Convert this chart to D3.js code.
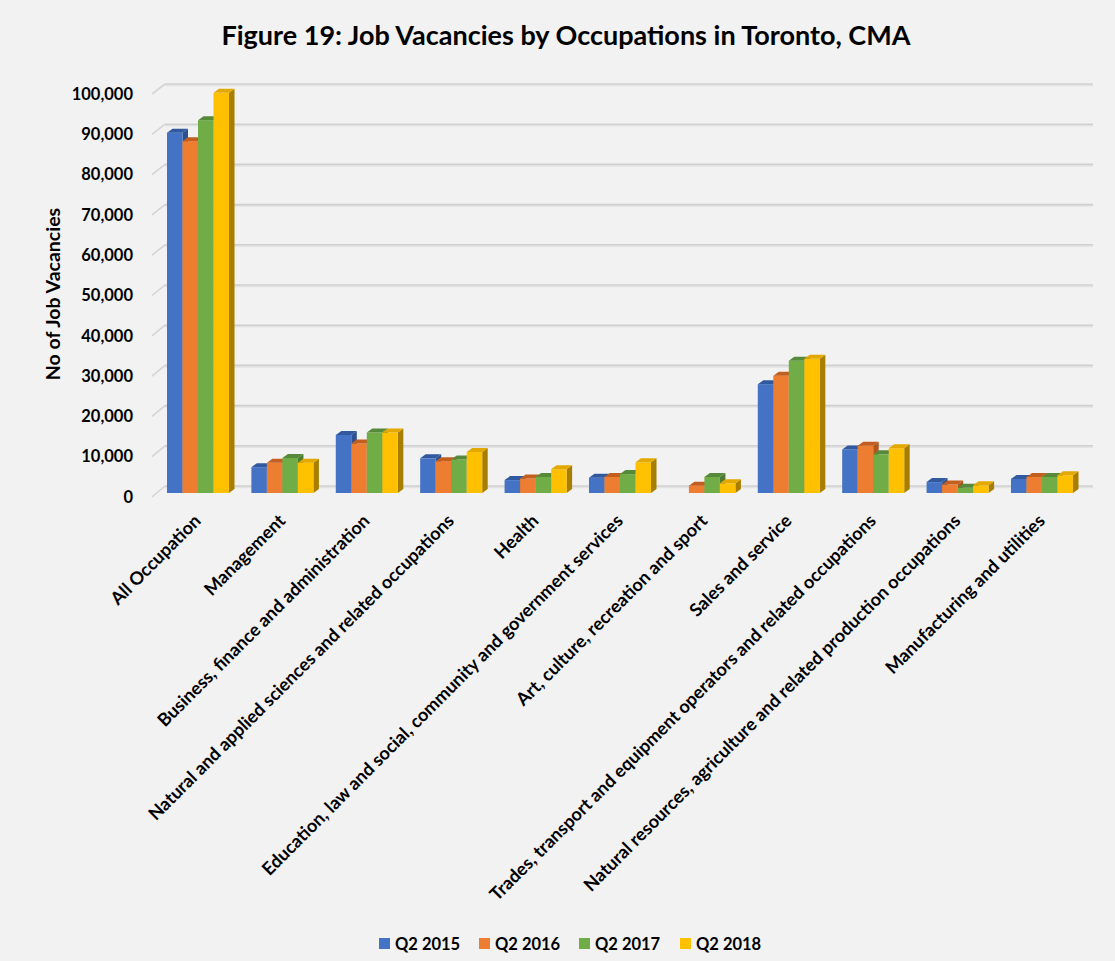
<!DOCTYPE html>
<html>
<head>
<meta charset="utf-8">
<script src="https://cdn.jsdelivr.net/npm/d3@7"></script>
<style>
  html, body { margin: 0; padding: 0; background: #f2f2f2; }
  svg { display: block; }
  text { font-family: Lato, "Open Sans", "Liberation Sans", sans-serif; font-weight: bold; fill: #000; }
</style>
</head>
<body>
<svg id="chart" width="1115" height="961"></svg>
<script>
const categories = [
  "All Occupation",
  "Management",
  "Business, finance and administration",
  "Natural and applied sciences and related occupations",
  "Health",
  "Education, law and social, community and government services",
  "Art, culture, recreation and sport",
  "Sales and service",
  "Trades, transport and equipment operators and related occupations",
  "Natural resources, agriculture and related production occupations",
  "Manufacturing and utilities"
];
const seriesNames = ["Q2 2015", "Q2 2016", "Q2 2017", "Q2 2018"];
const q2_2015 = [89400, 6400, 14400, 8600, 3200, 3800, 0, 27000, 10800, 2700, 3500];
const q2_2016 = [87300, 7500, 12300, 7900, 3600, 4000, 1800, 29100, 11700, 2100, 4000];
const q2_2017 = [92500, 8700, 15000, 8300, 4000, 4700, 4000, 32800, 9600, 1300, 4000];
const q2_2018 = [99300, 7500, 15000, 10200, 5900, 7600, 2400, 33300, 11100, 1900, 4400];
const yTicks = [0, 10000, 20000, 30000, 40000, 50000, 60000, 70000, 80000, 90000, 100000];
const seriesValues = [q2_2015, q2_2016, q2_2017, q2_2018];

const frontColors = ["#4472c4", "#ed7d31", "#70ad47", "#ffc000"];
const topColors   = ["#30599f", "#c45e1f", "#56893a", "#e3a900"];
const sideColors  = ["#2c5090", "#b0561c", "#4d7c31", "#a87e00"];

const svg = d3.select("#chart");

// Title
svg.append("text")
  .attr("x", 566).attr("y", 45)
  .attr("text-anchor", "middle")
  .style("font-size", "27px")
  .text("Figure 19: Job Vacancies by Occupations in Toronto, CMA");

// Scales
const yBar  = d3.scaleLinear().domain([0, 100000]).range([493, 90]);   // bar front plane
const yBack = d3.scaleLinear().domain([0, 100000]).range([486, 84]);   // back wall
const yFront = d3.scaleLinear().domain([0, 100000]).range([497, 94]);  // front edge (labels)
const x0 = d3.scaleBand().domain(categories).range([155.8, 1084.2])
  .paddingInner(0.265).paddingOuter(0.1325);
const x1 = d3.scaleBand().domain(seriesNames).range([0, x0.bandwidth()]);

const DX = 5.5, DY = -4;       // bar depth offset
const WALL_L = 165, WALL_R = 1093, FRONT_L = 152;

// Gridlines on back wall + side wall diagonals
const grid = svg.append("g");
yTicks.forEach(t => {
  const yb = yBack(t), yf = yFront(t);
  grid.append("line").attr("x1", WALL_L).attr("x2", WALL_R).attr("y1", yb + 1.5).attr("y2", yb + 1.5)
    .attr("stroke", "#e3e3e3").attr("stroke-width", 1.5);
  grid.append("line").attr("x1", WALL_L).attr("x2", WALL_R).attr("y1", yb).attr("y2", yb)
    .attr("stroke", "#cfcfcf").attr("stroke-width", 1.6);
  grid.append("line").attr("x1", FRONT_L).attr("x2", WALL_L).attr("y1", yf).attr("y2", yb)
    .attr("stroke", "#d4d4d4").attr("stroke-width", 1.6);
});

// Y tick labels
const fmt = d3.format(",");
svg.append("g").selectAll("text").data(yTicks).join("text")
  .attr("x", 133).attr("y", d => yFront(d))
  .attr("dy", "0.35em")
  .attr("text-anchor", "end")
  .style("font-size", "16.5px")
  .text(d => fmt(d));

// Y axis title
svg.append("text")
  .attr("transform", "translate(60,294) rotate(-90)")
  .attr("text-anchor", "middle")
  .style("font-size", "19.5px")
  .text("No of Job Vacancies");

// Bars (3D columns)
const barsG = svg.append("g");
categories.forEach((cat, ci) => {
  const g = barsG.append("g");
  seriesNames.forEach((s, si) => {
    const v = seriesValues[si][ci];
    if (!v) return;
    const xl = x0(cat) + x1(s);
    const w = x1.bandwidth();
    const xr = xl + w;
    const yt = yBar(v), yb = yBar(0);
    g.append("path")
      .attr("d", `M${xr},${yt} L${xr + DX},${yt + DY} L${xr + DX},${yb + DY} L${xr},${yb} Z`)
      .attr("fill", sideColors[si]);
    g.append("rect")
      .attr("x", xl).attr("y", yt).attr("width", w).attr("height", yb - yt)
      .attr("fill", frontColors[si]);
    g.append("path")
      .attr("d", `M${xl},${yt} L${xl + DX},${yt + DY} L${xr + DX},${yt + DY} L${xr},${yt} Z`)
      .attr("fill", topColors[si]);
  });
});

// X labels
svg.append("g").selectAll("text").data(categories).join("text")
  .attr("transform", d => `translate(${x0(d) + x0.bandwidth() / 2 + 4},${522}) rotate(-45)`)
  .attr("text-anchor", "end")
  .style("font-size", "18px")
  .text(d => d);

// Legend
const legendX = [379, 479, 579, 680];
const lg = svg.append("g");
seriesNames.forEach((s, i) => {
  lg.append("rect").attr("x", legendX[i]).attr("y", 938).attr("width", 11).attr("height", 11)
    .attr("fill", frontColors[i]);
  lg.append("text").attr("x", legendX[i] + 16).attr("y", 949.5)
    .style("font-size", "16.5px").text(s);
});
</script>
</body>
</html>
